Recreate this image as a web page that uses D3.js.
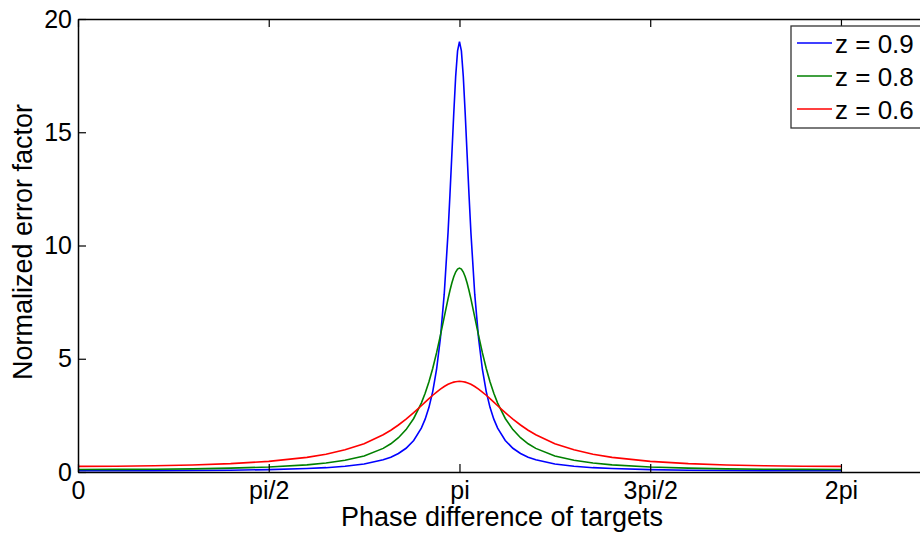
<!DOCTYPE html>
<html>
<head>
<meta charset="utf-8">
<script src="https://cdn.jsdelivr.net/npm/d3@7"></script>
<style>
body { margin: 0; background: #fff; }
text { font-family: "Liberation Sans", Arial, sans-serif; }
</style>
</head>
<body>
<script>
// phase in multiples of pi
var phase = [0, 0.1, 0.2, 0.3, 0.4, 0.5, 0.6, 0.65, 0.7, 0.75, 0.8, 0.82, 0.84, 0.86, 0.88, 0.9,
  0.91, 0.92, 0.93, 0.94, 0.95, 0.96, 0.97, 0.975, 0.98, 0.985, 0.99, 0.995, 1.0,
  1.005, 1.01, 1.015, 1.02, 1.025, 1.03, 1.04, 1.05, 1.06, 1.07, 1.08, 1.09, 1.1, 1.12, 1.14, 1.16, 1.18, 1.2,
  1.25, 1.3, 1.35, 1.4, 1.5, 1.6, 1.7, 1.8, 1.9, 2.0];

var z09 = [0.053, 0.054, 0.058, 0.066, 0.080, 0.105, 0.152, 0.191, 0.253, 0.354, 0.537, 0.655, 0.817, 1.048, 1.393, 1.937,
  2.332, 2.855, 3.562, 4.537, 5.908, 7.851, 10.56, 12.23, 14.02, 15.83, 17.46, 18.59, 19.0,
  18.59, 17.46, 15.83, 14.02, 12.23, 10.56, 7.851, 5.908, 4.537, 3.562, 2.855, 2.332, 1.937, 1.393, 1.048, 0.817, 0.655, 0.537,
  0.354, 0.253, 0.191, 0.152, 0.105, 0.080, 0.066, 0.058, 0.054, 0.053];

var z08 = [0.111, 0.114, 0.123, 0.140, 0.169, 0.220, 0.314, 0.394, 0.515, 0.708, 1.042, 1.245, 1.513, 1.872, 2.363, 3.043,
  3.477, 3.988, 4.584, 5.268, 6.030, 6.841, 7.643, 8.012, 8.343, 8.617, 8.828, 8.955, 9.0,
  8.955, 8.828, 8.617, 8.343, 8.012, 7.643, 6.841, 6.030, 5.268, 4.584, 3.988, 3.477, 3.043, 2.363, 1.872, 1.513, 1.245, 1.042,
  0.708, 0.515, 0.394, 0.314, 0.220, 0.169, 0.140, 0.123, 0.114, 0.111];

var z06 = [0.250, 0.256, 0.275, 0.310, 0.370, 0.471, 0.647, 0.785, 0.978, 1.251, 1.645, 1.845, 2.075, 2.334, 2.620, 2.926,
  3.082, 3.237, 3.388, 3.531, 3.662, 3.776, 3.871, 3.910, 3.942, 3.967, 3.985, 3.996, 4.0,
  3.996, 3.985, 3.967, 3.942, 3.910, 3.871, 3.776, 3.662, 3.531, 3.388, 3.237, 3.082, 2.926, 2.620, 2.334, 2.075, 1.845, 1.645,
  1.251, 0.978, 0.785, 0.647, 0.471, 0.370, 0.310, 0.275, 0.256, 0.250];

var seriesNames = ["z = 0.9", "z = 0.8", "z = 0.6"];
var seriesColors = ["#0000ff", "#008000", "#ff0000"];
var xTickVals = [0, 0.5, 1, 1.5, 2];
var xTickLabels = ["0", "pi/2", "pi", "3pi/2", "2pi"];
var yTickVals = [0, 5, 10, 15, 20];

var w = 920, h = 535;
var mLeft = 78, mTop = 19, mRight = 928, mBottom = 472;

var svg = d3.select("body").append("svg")
  .attr("width", w)
  .attr("height", h);

var x = d3.scaleLinear().domain([0, 7 / Math.PI]).range([mLeft, mRight]);
var y = d3.scaleLinear().domain([0, 20]).range([mBottom, mTop]);

var line = d3.line()
  .x(function(d) { return x(d[0]); })
  .y(function(d) { return y(d[1]); });

[z09, z08, z06].forEach(function(vals, i) {
  svg.append("path")
    .datum(phase.map(function(p, j) { return [p, vals[j]]; }))
    .attr("fill", "none")
    .attr("stroke", seriesColors[i])
    .attr("stroke-width", 1.6)
    .attr("d", line);
});

// axes, matlab style: ticks inside + box
var bAxis = d3.axisBottom(x).tickValues(xTickVals).tickSizeInner(-8).tickSizeOuter(0)
  .tickPadding(9).tickFormat(function(d, i) { return xTickLabels[i]; });
var tAxis = d3.axisTop(x).tickValues(xTickVals).tickSizeInner(-8).tickSizeOuter(0).tickFormat("");
var lAxis = d3.axisLeft(y).tickValues(yTickVals).tickSizeInner(-8).tickSizeOuter(0).tickPadding(6);

function style(g) {
  g.selectAll("path").attr("stroke", "#000").attr("stroke-width", 1.5);
  g.selectAll("line").attr("stroke", "#000").attr("stroke-width", 1.2);
  g.selectAll("text").attr("fill", "#000").style("font-size", "25px")
    .style("font-family", "'Liberation Sans', Arial, sans-serif");
}

svg.append("g").attr("transform", "translate(0," + mBottom + ")").call(bAxis).call(style);
svg.append("g").attr("transform", "translate(0," + mTop + ")").call(tAxis).call(style);
svg.append("g").attr("transform", "translate(" + mLeft + ",0)").call(lAxis).call(style);

svg.append("text")
  .attr("x", 502)
  .attr("y", 526)
  .attr("text-anchor", "middle")
  .style("font-size", "27px")
  .text("Phase difference of targets");

svg.append("text")
  .attr("transform", "translate(32,242) rotate(-90)")
  .attr("text-anchor", "middle")
  .style("font-size", "27px")
  .text("Normalized error factor");

// legend
var lg = svg.append("g");
lg.append("rect")
  .attr("x", 791).attr("y", 26).attr("width", 140).attr("height", 102)
  .attr("fill", "#fff").attr("stroke", "#333").attr("stroke-width", 1.3);

seriesNames.forEach(function(name, i) {
  var yy = 43 + i * 33;
  lg.append("line")
    .attr("x1", 797).attr("x2", 832)
    .attr("y1", yy).attr("y2", yy)
    .attr("stroke", seriesColors[i]).attr("stroke-width", 1.6);
  lg.append("text")
    .attr("x", 835).attr("y", yy + 10)
    .style("font-size", "26px")
    .text(name);
});
</script>
</body>
</html>
